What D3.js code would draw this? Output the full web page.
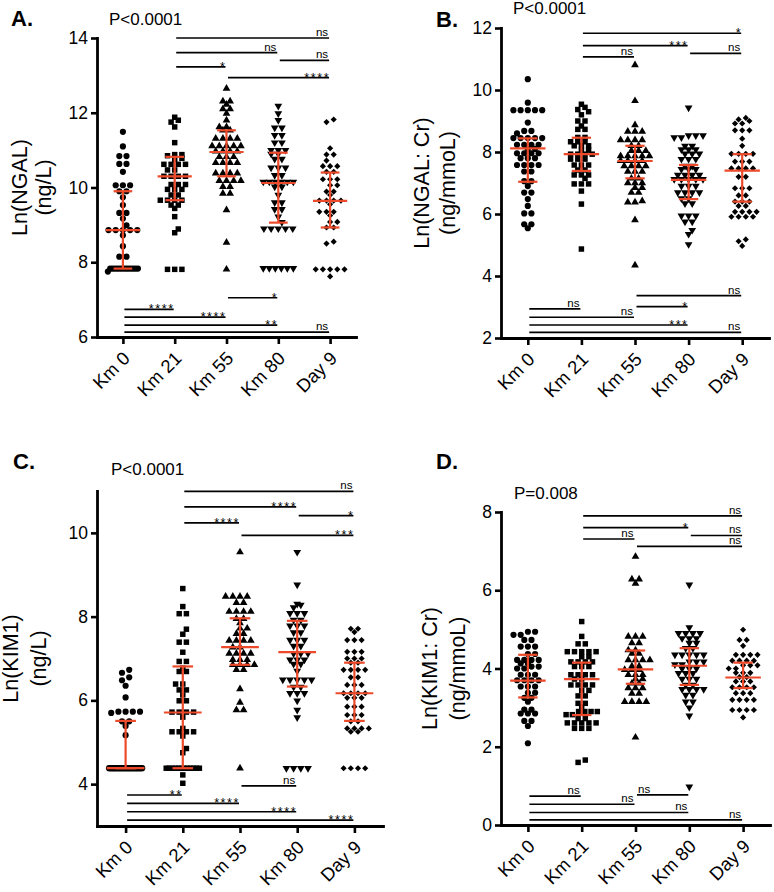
<!DOCTYPE html>
<html><head><meta charset="utf-8">
<script src="https://cdn.jsdelivr.net/npm/d3@7"></script>
<style>body{margin:0;background:#fff}</style>
</head><body><svg id="c" width="774" height="892"></svg>
<script>
const categories = ["Km 0", "Km 21", "Km 55", "Km 80", "Day 9"];

// ---------- Panel A: Ln(NGAL) ----------
const A_km0 = [11.49, 11.1, 10.84, 10.84, 10.63, 10.63, 10.42, 10.06, 10.06, 10.06, 9.9, 9.9, 9.74, 9.53, 9.32, 9.32, 9.17, 8.99, 8.86, 8.86, 8.86, 8.86, 8.86, 8.72, 8.43, 8.15, 8.15, 7.83, 7.83, 7.83, 7.83, 7.83, 7.83, 7.83, 7.83, 7.83, 7.83, 7.83, 7.83, 7.83, 7.75];
const A_km21 = [11.88, 11.8, 11.75, 11.62, 11.2, 10.88, 10.88, 10.85, 10.78, 10.75, 10.62, 10.62, 10.62, 10.62, 10.47, 10.47, 10.3, 10.3, 10.3, 10.3, 10.08, 10.08, 10.08, 9.95, 9.95, 9.95, 9.8, 9.8, 9.66, 9.66, 9.66, 9.66, 9.53, 9.53, 9.44, 9.22, 8.89, 8.79, 7.81, 7.81, 7.81];
const A_km55 = [12.65, 12.31, 12.31, 12.22, 12.1, 12.1, 11.98, 11.8, 11.62, 11.62, 11.53, 11.53, 11.31, 11.31, 11.31, 11.31, 11.11, 11.11, 11.11, 11.11, 11.11, 10.97, 10.97, 10.97, 10.97, 10.82, 10.82, 10.82, 10.66, 10.66, 10.66, 10.66, 10.38, 10.38, 10.38, 10.38, 10.18, 10.18, 10.18, 10.18, 10.02, 10.02, 9.84, 9.84, 9.4, 8.53, 7.81];
const A_km80 = [12.18, 11.98, 11.8, 11.6, 11.6, 11.4, 11.4, 11.2, 11.2, 11.0, 11.0, 11.0, 10.9, 10.9, 10.76, 10.76, 10.53, 10.53, 10.53, 10.33, 10.33, 10.15, 10.15, 10.15, 10.15, 10.15, 10.15, 10.02, 10.02, 9.8, 9.6, 9.6, 9.42, 9.42, 9.22, 9.07, 8.9, 8.9, 8.9, 8.9, 8.9, 7.84, 7.84, 7.84, 7.84, 7.84, 7.84];
const A_day9 = [11.82, 11.75, 11.05, 10.88, 10.88, 10.72, 10.57, 10.57, 10.57, 10.42, 10.42, 10.22, 10.22, 10.22, 10.06, 10.06, 9.89, 9.89, 9.8, 9.65, 9.65, 9.65, 9.65, 9.55, 9.35, 9.35, 9.35, 9.25, 9.08, 9.08, 8.93, 8.93, 8.55, 8.5, 7.81, 7.81, 7.81, 7.81, 7.81, 7.62];
const A_median = [8.86, 10.3, 10.95, 10.12, 9.64];
const A_q1 = [7.83, 9.66, 10.3, 9.06, 8.93];
const A_q3 = [9.9, 10.82, 11.53, 10.93, 10.4];
const A_ticks = [6, 8, 10, 12, 14];
const A_brackets = [
  [1, 4, 14.0, "ns"], [1, 3, 13.61, "ns"], [3, 4, 13.4, "ns"], [1, 2, 13.23, "*"], [2, 4, 12.94, "****"],
  [2, 3, 7.05, "*"], [0, 1, 6.74, "****"], [0, 2, 6.53, "****"], [0, 3, 6.32, "**"], [0, 4, 6.13, "ns"]
];

// ---------- Panel B: Ln(NGAL: Cr) ----------
const B_km0 = [10.35, 9.59, 9.35, 9.35, 9.35, 9.35, 9.35, 8.95, 8.68, 8.68, 8.6, 8.45, 8.45, 8.45, 8.45, 8.45, 8.23, 8.23, 8.23, 8.23, 8.1, 8.1, 7.96, 7.96, 7.96, 7.96, 7.8, 7.8, 7.8, 7.58, 7.58, 7.58, 7.58, 7.37, 7.37, 7.06, 7.06, 6.9, 6.69, 6.69, 6.48, 6.26, 6.02, 6.02, 5.67, 5.67, 5.54];
const B_km21 = [9.54, 9.44, 9.37, 9.3, 9.2, 9.0, 9.0, 8.84, 8.73, 8.73, 8.47, 8.47, 8.33, 8.33, 8.33, 8.2, 8.2, 8.2, 8.06, 8.06, 7.93, 7.93, 7.93, 7.93, 7.77, 7.77, 7.77, 7.58, 7.58, 7.58, 7.42, 7.42, 7.26, 7.26, 7.26, 7.15, 6.97, 6.97, 6.97, 6.74, 6.32, 4.87];
const B_km55 = [10.81, 9.65, 8.87, 8.66, 8.66, 8.66, 8.39, 8.39, 8.39, 8.39, 8.2, 8.2, 8.04, 8.04, 8.04, 7.87, 7.87, 7.87, 7.87, 7.87, 7.72, 7.72, 7.72, 7.72, 7.55, 7.55, 7.55, 7.55, 7.37, 7.37, 7.37, 7.15, 7.15, 7.0, 7.0, 7.0, 6.85, 6.85, 6.69, 6.69, 6.42, 6.38, 6.38, 5.81, 4.35];
const B_km80 = [9.43, 8.53, 8.53, 8.53, 8.47, 8.47, 8.19, 8.19, 8.08, 8.08, 8.08, 7.94, 7.94, 7.94, 7.77, 7.77, 7.77, 7.55, 7.55, 7.44, 7.44, 7.44, 7.26, 7.26, 7.26, 7.26, 7.12, 7.12, 7.12, 7.12, 7.12, 6.9, 6.9, 6.9, 6.69, 6.69, 6.69, 6.69, 6.5, 6.5, 6.34, 6.34, 5.94, 5.94, 5.94, 5.75, 5.75, 5.48, 5.35, 5.02];
const B_day9 = [9.1, 9.05, 9.0, 8.92, 8.92, 8.7, 8.7, 8.7, 8.43, 8.2, 7.94, 7.94, 7.94, 7.94, 7.69, 7.69, 7.69, 7.47, 7.47, 7.47, 7.47, 7.2, 7.2, 6.83, 6.83, 6.83, 6.6, 6.6, 6.4, 6.4, 6.4, 6.26, 6.26, 6.07, 6.07, 6.07, 6.07, 5.91, 5.91, 5.91, 5.91, 5.18, 5.12, 4.97];
const B_median = [8.12, 7.93, 7.71, 7.1, 7.4];
const B_q1 = [7.04, 7.39, 7.15, 6.48, 6.4];
const B_q3 = [8.44, 8.46, 8.2, 7.58, 7.93];
const B_ticks = [2, 4, 6, 8, 10, 12];
const B_brackets = [
  [1, 4, 11.83, "*"], [1, 3, 11.43, "***"], [3, 4, 11.18, "ns"], [1, 2, 11.07, "ns"],
  [2, 4, 3.37, "ns"], [2, 3, 3.01, "*"], [0, 1, 2.94, "ns"], [0, 2, 2.67, "ns"], [0, 3, 2.42, "***"], [0, 4, 2.18, "ns"]
];

// ---------- Panel C: Ln(KIM1) ----------
const C_km0 = [6.73, 6.66, 6.55, 6.48, 6.35, 6.07, 5.73, 5.73, 5.73, 5.73, 5.7, 5.5, 5.5, 5.39, 5.17, 4.38, 4.38, 4.38, 4.38, 4.38, 4.38, 4.38, 4.38, 4.38, 4.38, 4.38, 4.38, 4.38, 4.38, 4.38, 4.38, 4.38, 4.38, 4.38, 4.38, 4.38, 4.38, 4.38, 4.38, 4.38, 4.38, 4.38, 4.38, 4.38, 4.38];
const C_km21 = [8.67, 8.24, 8.07, 8.07, 7.7, 7.58, 7.39, 7.39, 7.15, 6.93, 6.93, 6.77, 6.69, 6.69, 6.39, 6.39, 6.25, 6.25, 6.13, 5.99, 5.99, 5.72, 5.72, 5.72, 5.72, 5.6, 5.33, 5.25, 5.25, 5.25, 5.25, 5.15, 4.85, 4.75, 4.38, 4.38, 4.38, 4.38, 4.38, 4.38, 4.38, 4.38, 4.38, 4.38, 4.38, 4.38, 4.22, 4.02];
const C_km55 = [9.54, 8.48, 8.48, 8.48, 8.48, 8.33, 8.33, 8.12, 8.12, 8.12, 8.12, 7.95, 7.95, 7.85, 7.72, 7.72, 7.59, 7.59, 7.43, 7.43, 7.43, 7.43, 7.27, 7.27, 7.12, 7.12, 7.12, 7.12, 6.97, 6.97, 6.97, 6.85, 6.85, 6.85, 6.85, 6.73, 6.73, 6.27, 5.95, 5.77, 5.77, 4.38];
const C_km80 = [9.54, 8.76, 8.3, 8.28, 8.22, 8.08, 8.08, 8.08, 7.92, 7.92, 7.78, 7.78, 7.78, 7.62, 7.62, 7.44, 7.44, 7.44, 7.3, 7.3, 7.12, 7.12, 7.12, 6.97, 6.97, 6.97, 6.87, 6.87, 6.7, 6.49, 6.49, 6.49, 6.49, 6.49, 6.32, 6.32, 6.17, 6.17, 6.17, 5.99, 5.77, 5.59, 4.38, 4.38, 4.38, 4.38];
const C_day9 = [7.71, 7.71, 7.63, 7.44, 7.44, 7.44, 7.16, 7.16, 7.16, 7.0, 7.0, 7.0, 6.9, 6.9, 6.73, 6.73, 6.73, 6.73, 6.55, 6.55, 6.37, 6.37, 6.37, 6.17, 6.17, 6.17, 6.17, 6.06, 6.06, 6.06, 5.85, 5.85, 5.85, 5.65, 5.65, 5.65, 5.5, 5.5, 5.33, 5.33, 5.33, 5.33, 5.25, 5.25, 4.38, 4.38, 4.38, 4.38];
const C_median = [4.38, 5.71, 7.27, 7.15, 6.17];
const C_q1 = [4.38, 4.38, 6.85, 6.33, 5.51];
const C_q3 = [5.51, 6.81, 7.96, 7.9, 6.9];
const C_ticks = [4, 6, 8, 10];
const C_brackets = [
  [1, 4, 10.99, "ns"], [1, 3, 10.62, "****"], [3, 4, 10.41, "*"], [1, 2, 10.24, "****"], [2, 4, 9.94, "***"],
  [2, 3, 3.96, "ns"], [0, 1, 3.74, "**"], [0, 2, 3.54, "****"], [0, 3, 3.34, "****"], [0, 4, 3.14, "****"]
];

// ---------- Panel D: Ln(KIM1: Cr) ----------
const D_km0 = [4.94, 4.94, 4.86, 4.86, 4.73, 4.73, 4.56, 4.56, 4.56, 4.37, 4.37, 4.22, 4.22, 4.22, 4.22, 4.13, 4.13, 4.05, 4.05, 4.0, 4.0, 3.84, 3.84, 3.84, 3.7, 3.7, 3.7, 3.7, 3.54, 3.54, 3.54, 3.38, 3.38, 3.25, 3.25, 3.15, 2.95, 2.95, 2.85, 2.85, 2.85, 2.66, 2.66, 2.53, 2.09];
const D_km21 = [5.2, 4.82, 4.63, 4.63, 4.43, 4.43, 4.43, 4.43, 4.43, 4.3, 4.3, 4.17, 4.17, 4.17, 4.17, 4.05, 4.05, 4.05, 3.84, 3.84, 3.84, 3.84, 3.73, 3.73, 3.58, 3.58, 3.58, 3.58, 3.44, 3.44, 3.3, 3.3, 3.11, 3.11, 3.02, 2.9, 2.9, 2.9, 2.9, 2.82, 2.82, 2.72, 2.72, 2.61, 2.61, 2.61, 2.61, 2.61, 2.47, 2.47, 2.47, 1.66, 1.6];
const D_km55 = [6.86, 6.28, 6.28, 6.17, 4.82, 4.82, 4.82, 4.65, 4.65, 4.47, 4.47, 4.38, 4.38, 4.22, 4.22, 4.22, 4.22, 4.06, 4.06, 3.97, 3.97, 3.97, 3.84, 3.84, 3.84, 3.73, 3.73, 3.62, 3.62, 3.5, 3.5, 3.5, 3.36, 3.36, 3.15, 3.15, 3.15, 3.15, 2.24];
const D_km80 = [6.14, 5.05, 4.9, 4.9, 4.9, 4.9, 4.77, 4.77, 4.77, 4.65, 4.65, 4.52, 4.52, 4.35, 4.35, 4.35, 4.35, 4.35, 4.17, 4.17, 4.17, 4.1, 4.1, 4.0, 4.0, 4.0, 3.88, 3.88, 3.88, 3.73, 3.73, 3.73, 3.58, 3.58, 3.47, 3.47, 3.47, 3.47, 3.32, 3.32, 3.15, 3.15, 3.0, 2.79, 0.98];
const D_day9 = [4.99, 4.73, 4.73, 4.58, 4.35, 4.35, 4.35, 4.35, 4.2, 4.2, 4.2, 4.2, 4.08, 4.08, 4.08, 4.0, 4.0, 3.89, 3.89, 3.89, 3.78, 3.78, 3.67, 3.67, 3.67, 3.52, 3.52, 3.52, 3.52, 3.37, 3.37, 3.37, 3.2, 3.2, 3.2, 3.2, 2.94, 2.94, 2.94, 2.94, 2.75];
const D_median = [3.69, 3.73, 3.98, 4.07, 3.77];
const D_q1 = [3.26, 2.81, 3.61, 3.58, 3.5];
const D_q3 = [4.35, 4.15, 4.46, 4.52, 4.15];
const D_ticks = [0, 2, 4, 6, 8];
const D_brackets = [
  [1, 4, 7.9, "ns"], [1, 3, 7.6, "*"], [3, 4, 7.4, "ns"], [1, 2, 7.31, "ns"], [2, 4, 7.12, "ns"],
  [2, 3, 0.77, "ns", "start"], [0, 1, 0.74, "ns"], [0, 2, 0.53, "ns"], [0, 3, 0.32, "ns"], [0, 4, 0.13, "ns"]
];

// ---------- drawing ----------
const FONT = "'Liberation Sans', Arial, Helvetica, sans-serif";
const RED = "#ec4a2a";
const svg = d3.select("#c");
svg.append("rect").attr("width", 774).attr("height", 892).attr("fill", "#fff");

const symDefs = [
  { type: d3.symbolCircle, size: 30, rot: 0 },
  { type: d3.symbolSquare, size: 30, rot: 0 },
  { type: d3.symbolTriangle, size: 26, rot: 0 },
  { type: d3.symbolTriangle, size: 26, rot: 180 },
  { type: d3.symbolSquare, size: 19, rot: 45 }
];

function swarm(values, y, spacing, maxSpan) {
  const pts = values.map(v => ({ v, py: y(v) })).sort((a, b) => b.py - a.py);
  const rows = [];
  pts.forEach(p => {
    const last = rows[rows.length - 1];
    if (last && Math.abs(p.py - last.start) < 3.2) last.items.push(p);
    else rows.push({ start: p.py, items: [p] });
  });
  let prev = null, sign = 1;
  rows.forEach(r => {
    const n = r.items.length;
    let s = spacing;
    if ((n - 1) * s > maxSpan) s = maxSpan / (n - 1);
    let shift = 0;
    if (prev && Math.abs(r.start - prev.start) < 6.5 && (n % 2) === (prev.n % 2) && prev.shift === 0 && n * s <= maxSpan + 0.5) {
      shift = sign * s / 2; sign = -sign;
    }
    r.items.forEach((p, k) => { p.dx = (k - (n - 1) / 2) * s + shift; });
    r.n = n; r.shift = shift; prev = r;
  });
  return pts;
}

function drawPanel(cfg) {
  const g = svg.append("g");
  const x = d3.scalePoint().domain(categories).range([cfg.x0, cfg.x1]).padding(0.5);
  const y = d3.scaleLinear().domain(cfg.domain).range([cfg.yBot, cfg.yTop]);
  const step = x.step();

  // axes
  const ya = g.append("g").attr("transform", `translate(${cfg.x0},0)`)
    .call(d3.axisLeft(y).tickValues(cfg.ticks).tickSize(6).tickSizeOuter(0).tickPadding(3).tickFormat(d3.format("d")));
  const xa = g.append("g").attr("transform", `translate(0,${cfg.yBot})`)
    .call(d3.axisBottom(x).tickSize(7).tickSizeOuter(0));
  [ya, xa].forEach(a => {
    a.select(".domain").attr("stroke", "#000").attr("stroke-width", 2.8).attr("stroke-linecap", "square");
    a.selectAll(".tick line").attr("stroke", "#000").attr("stroke-width", 2.6);
    a.selectAll("text").attr("font-family", FONT).attr("fill", "#000");
  });
  ya.selectAll("text").attr("font-size", 17.5);
  xa.selectAll("text").attr("font-size", 18.5)
    .attr("text-anchor", "end").attr("dy", "0.35em")
    .attr("transform", "translate(3,18) rotate(-45)").attr("y", 0).attr("x", 0);

  // points
  cfg.groups.forEach((vals, i) => {
    const pts = swarm(vals, y, 7.2, 0.58 * step);
    const cx = x(categories[i]);
    const sd = symDefs[i];
    const sym = d3.symbol().type(sd.type).size(sd.size);
    g.append("g").selectAll("path").data(pts).join("path")
      .attr("d", sym)
      .attr("fill", "#000")
      .attr("transform", d => `translate(${cx + d.dx},${d.py}) rotate(${sd.rot})`);
  });

  // median + IQR
  const mg = g.append("g").attr("stroke", RED).attr("stroke-width", 2.2).attr("fill", "none");
  categories.forEach((c, i) => {
    const cx = x(c);
    const hm = 0.33 * step, hc = 0.18 * step;
    mg.append("line").attr("x1", cx).attr("x2", cx).attr("y1", y(cfg.q1[i])).attr("y2", y(cfg.q3[i]));
    mg.append("line").attr("x1", cx - hm).attr("x2", cx + hm).attr("y1", y(cfg.median[i])).attr("y2", y(cfg.median[i]));
    mg.append("line").attr("x1", cx - hc).attr("x2", cx + hc).attr("y1", y(cfg.q1[i])).attr("y2", y(cfg.q1[i]));
    mg.append("line").attr("x1", cx - hc).attr("x2", cx + hc).attr("y1", y(cfg.q3[i])).attr("y2", y(cfg.q3[i]));
  });

  // comparison brackets
  cfg.brackets.forEach(b => {
    const [from, to, val, label, align] = b;
    const x1 = x(categories[from]) + 1.5, x2 = x(categories[to]) - 1;
    const yy = y(val);
    g.append("line").attr("x1", x1).attr("x2", x2).attr("y1", yy).attr("y2", yy)
      .attr("stroke", "#000").attr("stroke-width", 1.7);
    const isStar = label.indexOf("*") >= 0;
    const t = g.append("text").text(label)
      .attr("font-family", FONT).attr("fill", "#000")
      .attr("font-size", isStar ? 12.5 : 11.5)
      .attr("y", isStar ? yy + 4 : yy - 2);
    if (isStar) t.attr("letter-spacing", 1.6);
    if (align === "start") t.attr("x", x1 + 1).attr("text-anchor", "start");
    else t.attr("x", isStar ? x2 + 1 : x2 - 1).attr("text-anchor", "end");
  });

  // panel letter and p-value
  svg.append("text").text(cfg.letter).attr("x", cfg.letterPos[0]).attr("y", cfg.letterPos[1])
    .attr("font-family", FONT).attr("font-weight", "bold").attr("font-size", 22).attr("fill", "#000");
  svg.append("text").text(cfg.pText).attr("x", cfg.pPos[0]).attr("y", cfg.pPos[1])
    .attr("font-family", FONT).attr("font-size", 17).attr("fill", "#000");

  // y label (two lines)
  const cy = (cfg.yTop + cfg.yBot) / 2;
  cfg.yLabel.forEach((line, k) => {
    svg.append("text").text(line)
      .attr("transform", `translate(${cfg.yLabelX[k]},${cy}) rotate(-90)`)
      .attr("text-anchor", "middle")
      .attr("font-family", FONT).attr("font-size", 21.5).attr("fill", "#000");
  });
}

drawPanel({
  x0: 97, x1: 356, yTop: 38, yBot: 337, domain: [6, 14], ticks: A_ticks,
  groups: [A_km0, A_km21, A_km55, A_km80, A_day9], median: A_median, q1: A_q1, q3: A_q3, brackets: A_brackets,
  letter: "A.", letterPos: [11, 26], pText: "P<0.0001", pPos: [109, 25],
  yLabel: ["Ln(NGAL)", "(ng/L)"], yLabelX: [27, 51]
});
drawPanel({
  x0: 501, x1: 769, yTop: 28, yBot: 338, domain: [2, 12], ticks: B_ticks,
  groups: [B_km0, B_km21, B_km55, B_km80, B_day9], median: B_median, q1: B_q1, q3: B_q3, brackets: B_brackets,
  letter: "B.", letterPos: [436, 27], pText: "P<0.0001", pPos: [513, 14],
  yLabel: ["Ln(NGAL: Cr)", "(ng/mmoL)"], yLabelX: [429, 455]
});
drawPanel({
  x0: 97, x1: 383, yTop: 491, yBot: 826, domain: [3, 11], ticks: C_ticks,
  groups: [C_km0, C_km21, C_km55, C_km80, C_day9], median: C_median, q1: C_q1, q3: C_q3, brackets: C_brackets,
  letter: "C.", letterPos: [13, 469], pText: "P<0.0001", pPos: [111, 475],
  yLabel: ["Ln(KIM1)", "(ng/L)"], yLabelX: [18, 46]
});
drawPanel({
  x0: 501, x1: 770, yTop: 512, yBot: 825, domain: [0, 8], ticks: D_ticks,
  groups: [D_km0, D_km21, D_km55, D_km80, D_day9], median: D_median, q1: D_q1, q3: D_q3, brackets: D_brackets,
  letter: "D.", letterPos: [436, 469], pText: "P=0.008", pPos: [514, 499],
  yLabel: ["Ln(KIM1: Cr)", "(ng/mmoL)"], yLabelX: [437, 465]
});
</script>
</body></html>
